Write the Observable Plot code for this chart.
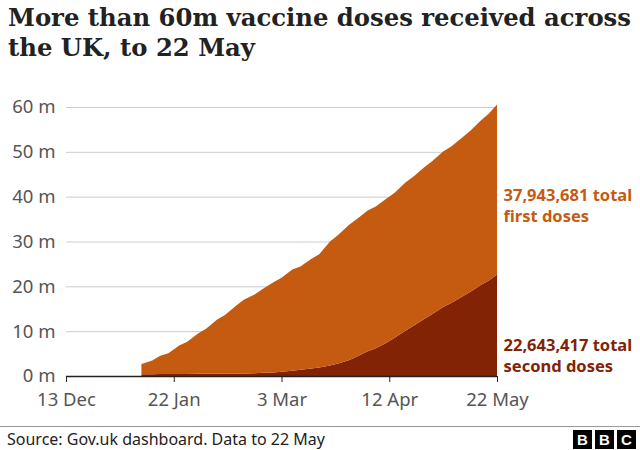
<!DOCTYPE html>
<html>
<head>
<meta charset="utf-8">
<script src="https://cdn.jsdelivr.net/npm/d3@7"></script>
<script src="https://cdn.jsdelivr.net/npm/@observablehq/plot@0.6"></script>
<style>
  body { margin: 0; background: #fff; }
  #wrap { position: relative; width: 640px; height: 450px; font-family: "Noto Sans", sans-serif; overflow: hidden; }
  #title { position: absolute; left: 8px; top: 3px; font-family: "DejaVu Serif", serif; font-size: 24.3px; font-weight: bold; line-height: 30px; color: #222; white-space: nowrap; }
  #chart { position: absolute; left: 0; top: 85px; }
  #rule { position: absolute; left: 0; top: 426px; width: 640px; height: 1px; background: #999; }
  #source { position: absolute; left: 7px; top: 428px; font-size: 16px; color: #222; }
  #logo { position: absolute; right: 4px; top: 430px; display: flex; gap: 3px; }
  #logo span { width: 19px; height: 19px; background: #000; color: #fff; font: bold 15px "Liberation Sans", sans-serif; display: flex; align-items: center; justify-content: center; }
</style>
</head>
<body>
<div id="wrap">
  <div id="title">More than 60m vaccine doses received across<br>the UK, to 22 May</div>
  <div id="chart"></div>
  <div id="rule"></div>
  <div id="source">Source: Gov.uk dashboard. Data to 22 May</div>
  <div id="logo"><span>B</span><span>B</span><span>C</span></div>
</div>
<script>
// Dates (2021) of readings
const dates = ["2021-01-10","2021-01-14","2021-01-17","2021-01-20","2021-01-24","2021-01-27","2021-01-31",
  "2021-02-03","2021-02-07","2021-02-10","2021-02-14","2021-02-17","2021-02-21","2021-02-24","2021-02-28",
  "2021-03-03","2021-03-07","2021-03-10","2021-03-14","2021-03-17","2021-03-21","2021-03-24","2021-03-28","2021-03-31",
  "2021-04-04","2021-04-07","2021-04-11","2021-04-14","2021-04-18","2021-04-21","2021-04-25","2021-04-28",
  "2021-05-02","2021-05-05","2021-05-09","2021-05-12","2021-05-16","2021-05-19","2021-05-22"];
// Cumulative first doses, millions
const firstDoses = [2.29,3.07,4.06,4.61,6.35,7.16,8.98,
  10.02,12.01,13.06,15.06,16.42,17.58,18.69,20.09,
  20.98,22.59,23.05,24.45,25.27,27.63,28.65,30.15,30.68,
  31.43,31.62,32.19,32.35,33.06,33.32,33.84,34.10,
  34.67,34.88,35.47,35.91,36.70,37.22,37.94];
// Cumulative second doses, millions
const secondDoses = [0.39,0.41,0.45,0.46,0.47,0.47,0.49,
  0.50,0.52,0.53,0.54,0.56,0.62,0.70,0.80,
  0.95,1.16,1.37,1.65,1.90,2.36,2.78,3.53,4.35,
  5.50,6.20,7.39,8.54,10.08,11.20,12.73,13.84,
  15.38,16.29,17.67,18.76,20.29,21.31,22.64];
const xTicks = ["2020-12-13","2021-01-22","2021-03-03","2021-04-12","2021-05-22"];
const yTicks = [0,10,20,30,40,50,60];
const firstLabelLines = ["37,943,681 total", "first doses"];
const secondLabelLines = ["22,643,417 total", "second doses"];
const firstTotal = 37.943681;

const colFirst = "#c55b10";
const colSecond = "#822305";

const parse = d3.utcParse("%Y-%m-%d");
const fmt = d3.utcFormat("%-d %b");
const rows = [];
dates.forEach((d, i) => {
  rows.push({date: parse(d), type: "second", value: secondDoses[i]});
  rows.push({date: parse(d), type: "first", value: firstDoses[i]});
});
const tickDates = xTicks.map(parse);
const lastDate = parse(dates[dates.length - 1]);

const labelOpts = (fill) => ({x: () => lastDate, text: d => d, dx: 6, textAnchor: "start", lineAnchor: "middle", fill, fontWeight: "bold", fontSize: 16.5});

const chart = Plot.plot({
  width: 640,
  height: 335,
  marginLeft: 66,
  marginRight: 143,
  marginTop: 22,
  marginBottom: 44,
  style: {fontFamily: "Noto Sans, sans-serif", fontSize: "18px", color: "#555", background: "#fff"},
  x: {type: "utc", domain: [tickDates[0], tickDates[tickDates.length - 1]]},
  y: {domain: [0, 60]},
  color: {domain: ["second", "first"], range: [colSecond, colFirst]},
  marks: [
    Plot.gridY(yTicks, {stroke: "#ccc", strokeOpacity: 1, strokeWidth: 1}),
    Plot.areaY(rows, {x: "date", y: "value", fill: "type", order: ["second", "first"], curve: "linear"}),
    Plot.axisY(yTicks, {tickSize: 0, tickPadding: 11, tickFormat: d => d + " m", fontSize: 18.5, fill: "#555", label: null}),
    Plot.axisX(tickDates, {tickSize: 6, tickPadding: 10, tickFormat: fmt, fontSize: 18.5, fill: "#555", stroke: "#222", label: null}),
    Plot.ruleY([0], {stroke: "#222", strokeWidth: 1.5}),
    Plot.text([firstLabelLines[0]], {...labelOpts(colFirst), y: () => firstTotal, dy: -10.5}),
    Plot.text([firstLabelLines[1]], {...labelOpts(colFirst), y: () => firstTotal, dy: 10.5}),
    Plot.text([secondLabelLines[0]], {...labelOpts(colSecond), y: () => 0, dy: -31}),
    Plot.text([secondLabelLines[1]], {...labelOpts(colSecond), y: () => 0, dy: -10})
  ]
});
document.getElementById("chart").appendChild(chart);
</script>
</body>
</html>
